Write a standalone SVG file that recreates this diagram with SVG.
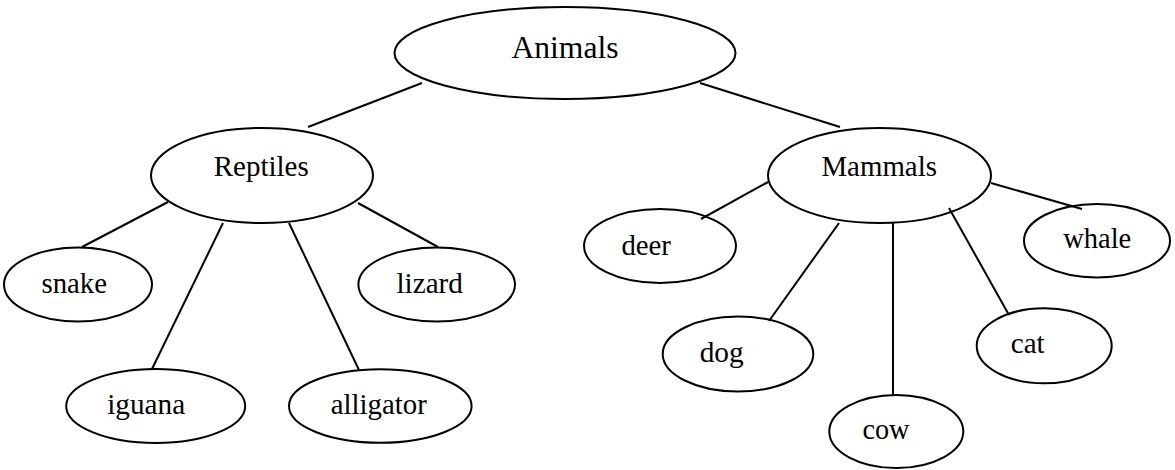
<svg xmlns="http://www.w3.org/2000/svg" width="1175" height="470" viewBox="0 0 1175 470">
<style>
.n ellipse{fill:#fff;stroke:#000;stroke-width:2}
.n text{font-family:"Liberation Serif","Times New Roman",serif;font-size:29.5px;fill:#000;text-anchor:middle}
#edges line{stroke:#000;stroke-width:2}
</style>
<rect width="1175" height="470" fill="#fff"/>
<g id="nodes" class="n">
<g id="animals"><ellipse cx="565" cy="53" rx="170.5" ry="46"/><text x="565" y="58.3" style="font-size:32.5px" textLength="107" lengthAdjust="spacingAndGlyphs">Animals</text></g>
<g id="reptiles"><ellipse cx="262" cy="175.5" rx="111" ry="47.5"/><text x="261.2" y="176" textLength="95" lengthAdjust="spacingAndGlyphs">Reptiles</text></g>
<g id="mammals"><ellipse cx="879.5" cy="175.5" rx="111.5" ry="47.5"/><text x="879.2" y="176" textLength="115.5" lengthAdjust="spacingAndGlyphs">Mammals</text></g>
<g id="snake"><ellipse cx="78" cy="284.5" rx="74" ry="37"/><text x="74.2" y="292.7" textLength="65.5" lengthAdjust="spacingAndGlyphs">snake</text></g>
<g id="lizard"><ellipse cx="436.7" cy="284.5" rx="78.3" ry="37"/><text x="429.7" y="292.7" textLength="66.5" lengthAdjust="spacingAndGlyphs">lizard</text></g>
<g id="iguana"><ellipse cx="155.7" cy="406" rx="89.5" ry="37"/><text x="146.2" y="414" textLength="78" lengthAdjust="spacingAndGlyphs">iguana</text></g>
<g id="alligator"><ellipse cx="380.3" cy="406" rx="91.3" ry="36.7"/><text x="378.8" y="414" textLength="96" lengthAdjust="spacingAndGlyphs">alligator</text></g>
<g id="deer"><ellipse cx="660" cy="246" rx="76" ry="37"/><text x="646.2" y="255" textLength="49.5" lengthAdjust="spacingAndGlyphs">deer</text></g>
<g id="dog"><ellipse cx="738" cy="354" rx="75.3" ry="37.5"/><text x="721.7" y="361.7" textLength="44" lengthAdjust="spacingAndGlyphs">dog</text></g>
<g id="cow"><ellipse cx="896.3" cy="431.5" rx="67" ry="36.5"/><text x="886" y="439.3" textLength="47" lengthAdjust="spacingAndGlyphs">cow</text></g>
<g id="cat"><ellipse cx="1044.2" cy="345.8" rx="67.5" ry="37.5"/><text x="1027.7" y="353.3" textLength="34" lengthAdjust="spacingAndGlyphs">cat</text></g>
<g id="whale"><ellipse cx="1097" cy="240.7" rx="73" ry="36.7"/><text x="1097.2" y="248.3" textLength="68" lengthAdjust="spacingAndGlyphs">whale</text></g>
</g>
<g id="edges">
<line x1="422" y1="83" x2="308" y2="127"/>
<line x1="700" y1="83" x2="840" y2="127"/>
<line x1="168" y1="202" x2="82" y2="247"/>
<line x1="223" y1="223" x2="152" y2="369"/>
<line x1="289" y1="223" x2="359" y2="370"/>
<line x1="358" y1="203" x2="438" y2="247"/>
<line x1="768" y1="182" x2="701" y2="219"/>
<line x1="839" y1="223" x2="769" y2="321"/>
<line x1="893" y1="223" x2="893" y2="395"/>
<line x1="949" y1="208" x2="1009" y2="315"/>
<line x1="991" y1="183" x2="1082" y2="209"/>
</g>
</svg>
